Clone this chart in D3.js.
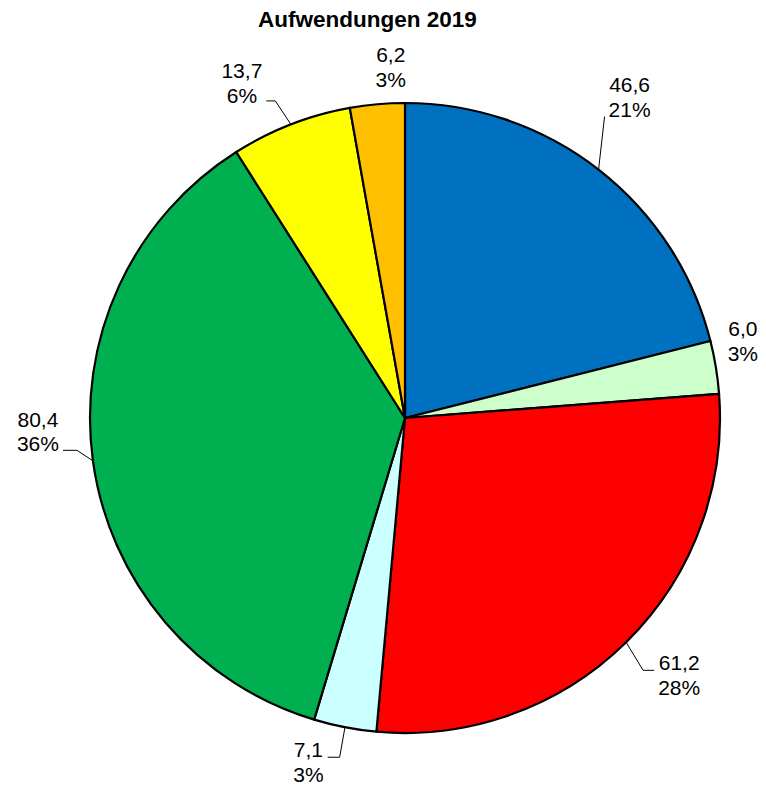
<!DOCTYPE html>
<html>
<head>
<meta charset="utf-8">
<script src="https://cdn.jsdelivr.net/npm/d3@7"></script>
<style>
  body { margin: 0; background: #fff; }
  text { font-family: "Liberation Sans", Arial, sans-serif; fill: #000; }
</style>
</head>
<body>
<svg id="chart" width="766" height="787"></svg>
<script>
// values in order, clockwise from 12 o'clock
const categories = ["A", "B", "C", "D", "E", "F", "G"];
const values = [46.6, 6.0, 61.2, 7.1, 80.4, 13.7, 6.2];
const colors = ["#0070C0", "#CCFFCC", "#FF0000", "#CCFFFF", "#00B050", "#FFFF00", "#FFC000"];
const title = "Aufwendungen 2019";

// label placement relative to slice edge point: [dx, dy] of text centre / first baseline
const labelOffsets = [[31, -77.5], [27, -31], [53, 28], [-36.5, 30], [-55, -34], [-49, -46], [13.5, -42]];
// leader: null = none; otherwise side of text, line index to attach, elbow length
const leaders = [
    {side: "left", line: 1, dy: 0, elbow: 0},
    null,
    {side: "left", line: 0, dy: 0, elbow: 11},
    {side: "right", line: 0, dy: 0, elbow: 12},
    {side: "right", line: 1, dy: -1, elbow: 14},
    {side: "right", line: 1, dy: -2, elbow: 9},
    null
];

const cx = 405, cy = 418, radius = 315;
const fontSize = 21, lineGap = 24.5;

const svg = d3.select("#chart");
const total = d3.sum(values);
const fmt = d => d.toFixed(1).replace(".", ",");

svg.append("text")
    .attr("x", 367.5)
    .attr("y", 27)
    .attr("text-anchor", "middle")
    .attr("font-size", "22.5px")
    .attr("font-weight", "bold")
    .text(title);

const pie = d3.pie().sort(null).value(d => d);
const arcs = pie(values);
const arc = d3.arc().innerRadius(0).outerRadius(radius);

const g = svg.append("g").attr("transform", `translate(${cx},${cy})`);

g.selectAll("path.slice")
    .data(arcs)
    .join("path")
    .attr("class", "slice")
    .attr("d", arc)
    .attr("fill", (d, i) => colors[i])
    .attr("stroke", "#000")
    .attr("stroke-width", 2.2)
    .attr("stroke-linejoin", "round");

arcs.forEach((d, i) => {
    const mid = (d.startAngle + d.endAngle) / 2;
    const ex = cx + radius * Math.sin(mid);
    const ey = cy - radius * Math.cos(mid);
    const tx = ex + labelOffsets[i][0];
    const ty = ey + labelOffsets[i][1];
    const pct = Math.round(values[i] / total * 100) + "%";

    const label = svg.append("text")
        .attr("text-anchor", "middle")
        .attr("font-size", fontSize + "px");
    label.append("tspan").attr("x", tx).attr("y", ty).text(fmt(values[i]));
    label.append("tspan").attr("x", tx).attr("y", ty + lineGap).text(pct);

    const lead = leaders[i];
    if (lead) {
        const box = label.node().getBBox();
        const tipX = lead.side === "left" ? box.x - 4 : box.x + box.width + 4;
        const tipY = ty + lead.line * lineGap + lead.dy;
        const elbowX = lead.side === "left" ? tipX - lead.elbow : tipX + lead.elbow;
        svg.append("path")
            .attr("d", `M${ex},${ey}L${elbowX},${tipY}L${tipX},${tipY}`)
            .attr("fill", "none")
            .attr("stroke", "#000")
            .attr("stroke-width", 1);
    }
});
</script>
</body>
</html>
